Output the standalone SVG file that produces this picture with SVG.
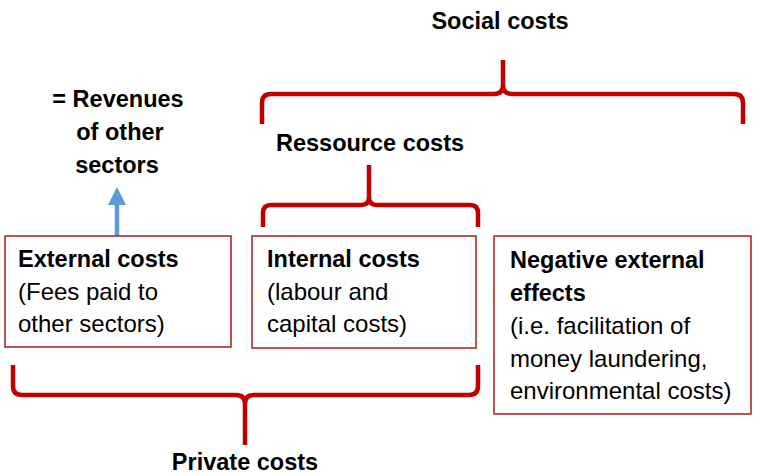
<svg xmlns="http://www.w3.org/2000/svg" width="758" height="473" viewBox="0 0 758 473">
<style>
.box{fill:#fff;stroke:#B01818;stroke-width:1.5}
.brace{fill:none;stroke:#C00000;stroke-width:4.5;stroke-linecap:butt;stroke-linejoin:round}
text{font-family:"Liberation Sans",Arial,sans-serif;font-size:24px;fill:#000}
.b{font-weight:bold;font-size:23.5px}
.c{text-anchor:middle}
</style>
<defs>
<marker id="ah" markerWidth="4" markerHeight="4" refX="2" refY="2" orient="auto" markerUnits="strokeWidth">
<path d="M0,0 L4,2 L0,4 Z" fill="#5B9BD5"/>
</marker>
</defs>
<g id="connectors">
<path class="brace" d="M262,124 V103 Q262,94 271,94 H494 Q503,94 503,85 V60 M503,85 Q503,94 512,94 H734 Q743,94 743,103 V124"/>
<path class="brace" d="M263,227 V213 Q263,205 271,205 H361 Q369,205 369,197 V165 M369,197 Q369,205 377,205 H470 Q478,205 478,213 V227"/>
<path class="brace" d="M13,365 V386 Q13,395 22,395 H236 Q245,395 245,404 V445 M245,404 Q245,395 254,395 H469 Q478,395 478,386 V365"/>
<line x1="117" y1="236" x2="117" y2="196" stroke="#5B9BD5" stroke-width="4.5" marker-end="url(#ah)"/>
</g>
<g id="social-label"><text class="b c" x="500" y="29">Social costs</text></g>
<g id="resource-label"><text class="b c" x="370" y="151">Ressource costs</text></g>
<g id="private-label"><text class="b c" x="245" y="470">Private costs</text></g>
<g id="revenues-label">
<text class="b c" x="118" y="107">= Revenues</text>
<text class="b c" x="120" y="140">of other</text>
<text class="b c" x="117" y="173">sectors</text>
</g>
<g id="external-costs">
<rect class="box" x="5" y="236" width="226" height="111"/>
<text class="b" x="18" y="267">External costs</text>
<text x="18" y="300">(Fees paid to</text>
<text x="18" y="332">other sectors)</text>
</g>
<g id="internal-costs">
<rect class="box" x="252" y="236" width="224" height="112"/>
<text class="b" x="267" y="267">Internal costs</text>
<text x="267" y="300">(labour and</text>
<text x="267" y="332">capital costs)</text>
</g>
<g id="negative-effects">
<rect class="box" x="494" y="236" width="257" height="178"/>
<text class="b" x="510" y="268">Negative external</text>
<text class="b" x="510" y="301">effects</text>
<text x="510" y="334">(i.e. facilitation  of</text>
<text x="510" y="367">money laundering,</text>
<text x="510" y="399">environmental costs)</text>
</g>
</svg>
